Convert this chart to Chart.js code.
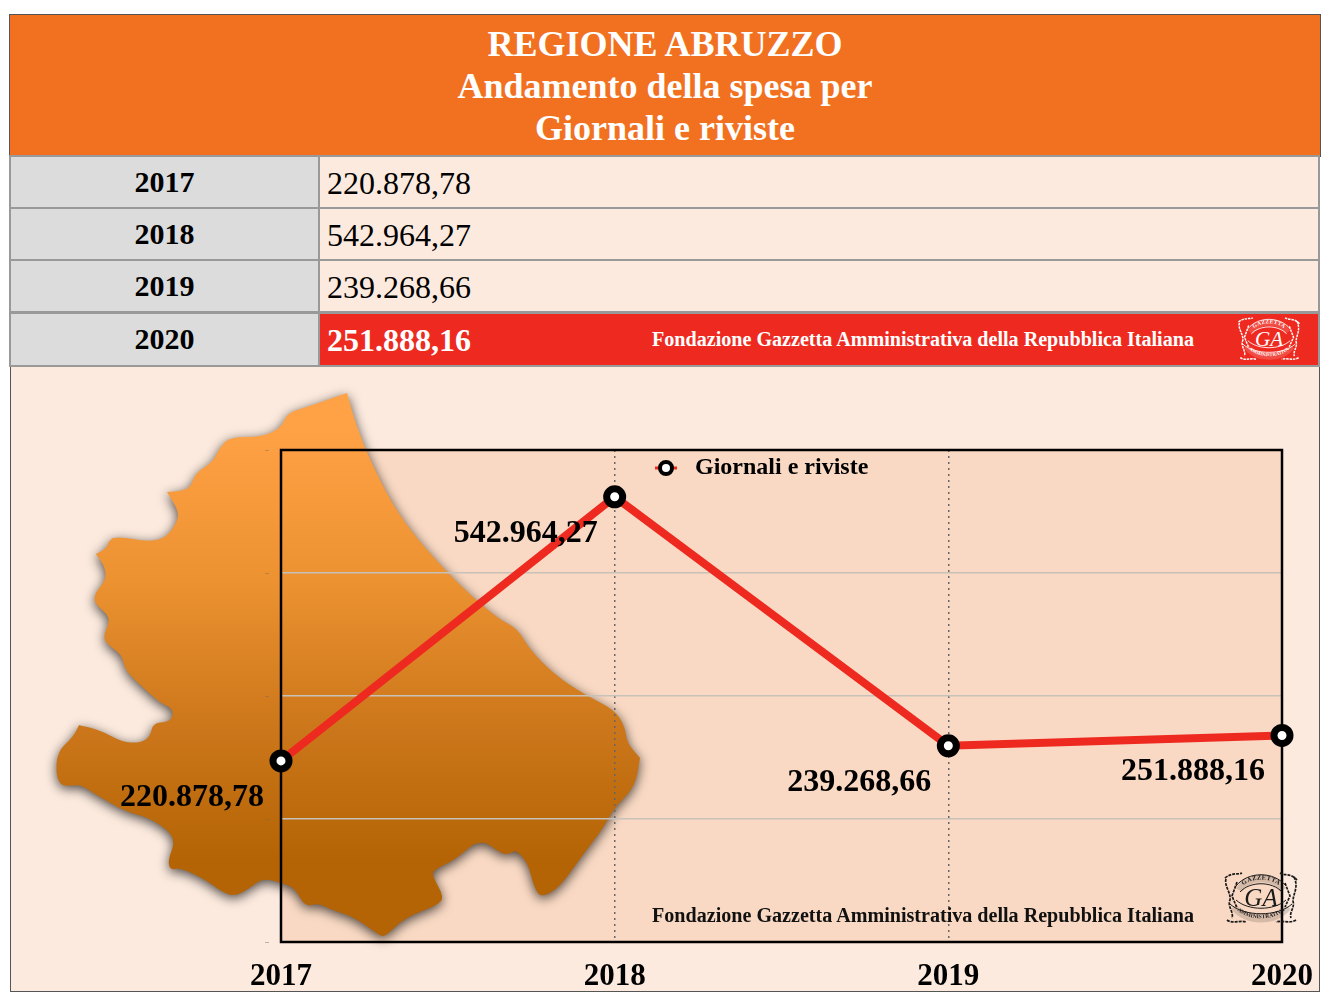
<!DOCTYPE html>
<html>
<head>
<meta charset="utf-8">
<script src="https://cdn.jsdelivr.net/npm/chart.js@4"></script>
<style>
html, body { margin: 0; padding: 0; background: #fff; }
#page { position: relative; width: 1332px; height: 1006px; overflow: hidden; font-family: "Liberation Serif", serif; }
#frame { position: absolute; left: 10px; top: 366px; width: 1308px; height: 625px; background: #fceade; border: 1px solid #555; border-top: 0; }
#head { position: absolute; left: 9px; top: 14px; width: 1310px; height: 141px; background: #f27121; border: 1px solid #555; color: #fff; font-weight: bold; text-align: center; font-size: 36px; line-height: 42px; }
#head div:first-child { margin-top: 8px; }
.row { position: absolute; left: 9px; width: 1307px; height: 50px; border: 2px solid #999; background: #fceade; }
.row .year { position: absolute; left: 0; top: 0; width: 309px; height: 100%; background: #dcdcdc; border-right: 2px solid #999; text-align: center; font-weight: bold; font-size: 30px; line-height: 50px; box-sizing: border-box; }
.row .val { position: absolute; left: 316px; top: 0; font-size: 32px; line-height: 52px; color: #000; }
.row.last { background: #ee2a20; height: 51px; }
.row.last .val { color: #fff; font-weight: bold; line-height: 52px; }
.mark { position: absolute; font-weight: bold; font-size: 20.1px; white-space: nowrap; }
canvas { position: absolute; left: 0; top: 0; }
#chartbox { position: absolute; left: 0; top: 367px; width: 1332px; height: 639px; }
svg.emblem { position: absolute; }
</style>
</head>
<body>
<div id="page">
  <div id="frame"></div>
  <div id="head"><div>REGIONE ABRUZZO</div><div>Andamento della spesa per</div><div>Giornali e riviste</div></div>
  <div id="rows"></div>
  <div id="chartbox"><canvas id="chart" width="1332" height="639"></canvas></div>
  <div class="mark" style="left:652px;top:328px;color:#fff">Fondazione Gazzetta Amministrativa della Repubblica Italiana</div>
  <div class="mark" style="left:652px;top:904px;color:#111">Fondazione Gazzetta Amministrativa della Repubblica Italiana</div>
  <svg width="0" height="0" style="position:absolute">
    <defs>
      <path id="arcTop" d="M17 20 C26 6 52 6 61 20"/>
      <path id="arcBot" d="M12 37 C24 52 54 52 66 37"/>
      <g id="ga" fill="none" stroke="currentColor">
        <path d="M17 20 C26 5 52 5 61 20 M12 37 C24 53 54 53 66 37" stroke-width="7" stroke-opacity="0.16"/>
        <path d="M14 16 C26 1 52 1 64 16 M18 22 C28 11 50 11 60 22 M8 34 C22 47 56 47 70 34 M14 30 C26 41 52 41 64 30" stroke-width="1"/>
        <path d="M3 8 C10 2 16 5 20 3 M4 9 C2 16 9 22 8 30 C5 36 12 42 10 48 M15 12 L10 26 L15 38 M5 50 C10 54 18 50 24 52" stroke-width="1.7" stroke-dasharray="3 1"/>
        <path d="M75 10 C69 3 63 6 58 3 M72 7 C77 17 71 24 71 31 C73 38 67 42 69 48 M63 13 L68 26 L63 37 M74 50 C68 54 60 50 54 52" stroke-width="1.7" stroke-dasharray="3 1"/>
        <text font-family="Liberation Serif" font-size="6.5" font-weight="bold" fill="currentColor" stroke="none" letter-spacing="0.3"><textPath href="#arcTop" startOffset="50%" text-anchor="middle">GAZZETTA</textPath></text>
        <text font-family="Liberation Serif" font-size="5.6" font-weight="bold" fill="currentColor" stroke="none"><textPath href="#arcBot" startOffset="50%" text-anchor="middle">AMMINISTRATIVA</textPath></text>
        <text x="39" y="36" text-anchor="middle" font-family="Liberation Serif" font-style="italic" font-size="25" fill="currentColor" stroke="none">GA</text>
      </g>
    </defs>
  </svg>
  <svg class="emblem" style="left:1236px;top:315px;color:#fff" width="66" height="48" viewBox="0 0 78 56"><use href="#ga"/></svg>
  <svg class="emblem" style="left:1222px;top:869px;color:#1a1a1a" width="78" height="58" viewBox="0 0 78 56"><use href="#ga"/></svg>
</div>
<script>
// DATA
const years = ['2017', '2018', '2019', '2020'];
const spesa = [220878.78, 542964.27, 239268.66, 251888.16];
const seriesName = 'Giornali e riviste';
const yMax = 600000;
const yStep = 150000;

// map outline, page pixels; a repeated point gives a sharp corner
const mapOutline = [[347,393],[347,393],[356,425],[370,460],[390,500],[410,530],[440,565],[470,595],[500,620],[517,628],[530,650],[555,675],[585,695],[615,710],[625,727],[627,743],[640,758],[640,758],[635,787],[614,808],[602,830],[581,857],[560,887],[541,898],[534,887],[528,863],[516,850],[511,853],[503,855],[480,838],[455,860],[433,870],[433,877],[444,897],[438,905],[404,918],[385,937],[379,935],[354,917],[332,910],[318,903],[305,907],[295,888],[282,883],[263,878],[250,888],[234,897],[219,890],[206,880],[181,868],[170,870],[168,860],[175,842],[168,830],[147,817],[126,812],[93,793],[80,784],[63,787],[56,777],[57,752],[73,737],[79,725],[79,725],[100,730],[122,742],[140,743],[150,737],[153,723],[167,722],[173,717],[172,708],[160,703],[138,683],[125,670],[122,655],[108,645],[103,637],[109,623],[108,615],[94,603],[95,593],[106,580],[105,567],[96,554],[96,554],[107,548],[108,542],[115,536],[150,542],[167,537],[178,520],[178,510],[167,492],[167,492],[190,490],[195,473],[213,462],[220,447],[230,437],[263,437],[282,427],[287,413],[307,407]];

function fmt(v) {
	return v.toLocaleString('it-IT', { minimumFractionDigits: 2, maximumFractionDigits: 2 });
}

// TABLE ROWS
const rowTops = [155, 207, 259, 312];
years.forEach((y, i) => {
	const r = document.createElement('div');
	r.className = 'row' + (i === years.length - 1 ? ' last' : '');
	r.style.top = rowTops[i] + 'px';
	r.innerHTML = `<div class="year">${y}</div><div class="val">${fmt(spesa[i])}</div>`;
	document.getElementById('rows').appendChild(r);
});

// LEGEND MARKER
function legendMarker() {
	const c = document.createElement('canvas');
	c.width = 22; c.height = 18;
	const g = c.getContext('2d');
	g.strokeStyle = '#ee2a20'; g.lineWidth = 3;
	g.beginPath(); g.moveTo(0, 9); g.lineTo(22, 9); g.stroke();
	g.beginPath(); g.arc(11, 9, 6, 0, Math.PI * 2);
	g.fillStyle = '#fff'; g.fill();
	g.strokeStyle = '#000'; g.lineWidth = 4; g.stroke();
	return c;
}

// PLOT BACKGROUND, MAP, FRAME
const backdrop = {
	id: 'backdrop',
	beforeDraw(chart) {
		const { ctx, chartArea: a } = chart;
		chart.legend.left = a.left + 362;
		chart.legend.top = a.top;
		ctx.save();
		ctx.fillStyle = '#f9d9c3';
		ctx.fillRect(a.left, a.top, a.right - a.left, a.bottom - a.top);
		const off = 367;
		const grad = ctx.createLinearGradient(0, 430 - off, 0, 860 - off);
		grad.addColorStop(0, '#ffa145');
		grad.addColorStop(0.35, '#ec9231');
		grad.addColorStop(0.7, '#cb761a');
		grad.addColorStop(1, '#b46405');
		ctx.beginPath();
		const n = mapOutline.length;
		const mid = (p, q) => [(p[0] + q[0]) / 2, (p[1] + q[1]) / 2 - off];
		const st = mid(mapOutline[n - 1], mapOutline[0]);
		ctx.moveTo(st[0], st[1]);
		mapOutline.forEach((p, i) => {
			const m = mid(p, mapOutline[(i + 1) % n]);
			ctx.quadraticCurveTo(p[0], p[1] - off, m[0], m[1]);
		});
		ctx.closePath();
		ctx.shadowColor = 'rgba(0,0,0,0.7)';
		ctx.shadowBlur = 12;
		ctx.shadowOffsetX = 0;
		ctx.shadowOffsetY = 3;
		ctx.fillStyle = grad;
		ctx.fill();
		ctx.restore();
	},
	beforeDatasetsDraw(chart) {
		const { ctx, chartArea: a } = chart;
		ctx.save();
		ctx.strokeStyle = '#000';
		ctx.lineWidth = 2.5;
		ctx.strokeRect(a.left, a.top, a.right - a.left, a.bottom - a.top);
		ctx.restore();
	},
	afterDatasetsDraw(chart) {
		const { ctx } = chart;
		ctx.save();
		ctx.font = 'bold 32px "Liberation Serif"';
		ctx.fillStyle = '#000';
		ctx.textAlign = 'right';
		ctx.textBaseline = 'alphabetic';
		chart.getDatasetMeta(0).data.forEach((pt, i) => {
			ctx.fillText(fmt(spesa[i]), pt.x - 17, pt.y + 45);
		});
		ctx.restore();
	}
};

// CHART
new Chart(document.getElementById('chart').getContext('2d'), {
	type: 'line',
	data: {
		labels: years,
		datasets: [{
			label: seriesName,
			data: spesa,
			fill: false,
			borderColor: '#ee2a20',
			backgroundColor: '#fff',
			borderWidth: 8,
			tension: 0,
			pointRadius: 8,
			pointBorderWidth: 7,
			pointBorderColor: '#000',
			pointBackgroundColor: '#fff',
			clip: false
		}]
	},
	options: {
		responsive: false,
		animation: false,
		layout: { padding: { top: 83, right: 50, left: 0, bottom: 0 } },
		plugins: {
			legend: {
				position: 'chartArea',
				align: 'start',
				labels: {
					usePointStyle: true,
					pointStyleWidth: 34,
					color: '#000',
					padding: 6,
					font: { family: 'Liberation Serif', size: 24, weight: 'bold' },
					generateLabels: () => [{ text: seriesName, pointStyle: legendMarker(), fontColor: '#000', lineWidth: 0, strokeStyle: 'transparent', datasetIndex: 0 }]
				}
			},
			tooltip: { enabled: false }
		},
		scales: {
			x: {
				offset: false,
				afterFit: s => { s.height = 64; },
				grid: {
					color: c => (c.index === 0 || c.index === years.length - 1) ? 'transparent' : '#666',
					lineWidth: 1.5,
					tickLength: 0
				},
				border: { display: false, dash: [2, 4] },
				ticks: {
					autoSkip: false, maxRotation: 0, color: '#000', padding: 16,
					font: { family: 'Liberation Serif', size: 31, weight: 'bold' }
				}
			},
			y: {
				min: 0,
				max: yMax,
				afterFit: s => { s.width = 281; },
				grid: { color: '#c8c1b9', lineWidth: 1.5, tickLength: 0 },
				border: { display: false },
				ticks: {
					stepSize: yStep, padding: 12, color: '#7a6a58',
					font: { family: 'Liberation Serif', size: 8 },
					callback: () => '\u2013'
				}
			}
		}
	},
	plugins: [backdrop]
});
</script>
</body>
</html>
